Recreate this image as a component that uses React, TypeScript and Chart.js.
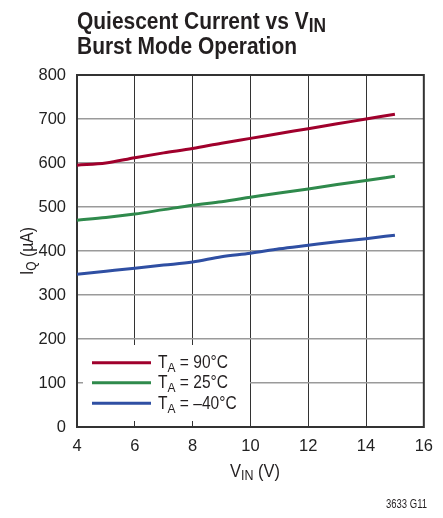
import React, { useEffect, useRef } from 'react';
import { Chart, registerables } from 'chart.js';

Chart.register(...registerables);

const vin = [4, 5, 6, 7, 8, 9, 10, 11, 12, 13, 14, 15];
const iq90 = [595, 600, 612, 623, 633, 645, 656, 667, 678, 689, 700, 711];
const iq25 = [470, 476, 484, 494, 504, 512, 522, 532, 541, 551, 560, 570];
const iqM40 = [347, 354, 361, 368, 375, 387, 395, 405, 413, 421, 428, 436];
const seriesTemps = ['= 90°C', '= 25°C', '= –40°C'];
const seriesColors = ['#a0002c', '#2f8a4c', '#2f4fa3'];
const xMin = 4, xMax = 16, xStep = 2;
const yMin = 0, yMax = 800, yStep = 100;

const FAM = '"Liberation Sans", Arial, Helvetica, sans-serif';
const TXT = '#231f20';

type Run = { t: string; size: number; bold?: boolean; dy?: number };

function fontOf(r: Run) {
  return `${r.bold ? 'bold ' : ''}${r.size}px ${FAM}`;
}
function runsWidth(ctx: CanvasRenderingContext2D, runs: Run[]) {
  let w = 0;
  for (const r of runs) { ctx.font = fontOf(r); w += ctx.measureText(r.t).width; }
  return w;
}
function drawRuns(ctx: CanvasRenderingContext2D, runs: Run[], x: number, y: number, sx: number, align: 'left' | 'center' | 'right' = 'left', rotate = 0) {
  const w = runsWidth(ctx, runs) * sx;
  ctx.save();
  ctx.translate(x, y);
  if (rotate) ctx.rotate(rotate);
  let start = 0;
  if (align === 'center') start = -w / 2;
  if (align === 'right') start = -w;
  ctx.translate(start, 0);
  ctx.scale(sx, 1);
  ctx.fillStyle = TXT;
  ctx.textAlign = 'left';
  ctx.textBaseline = 'alphabetic';
  let cx = 0;
  for (const r of runs) {
    ctx.font = fontOf(r);
    ctx.fillText(r.t, cx, r.dy || 0);
    cx += ctx.measureText(r.t).width;
  }
  ctx.restore();
}

const decorPlugin = {
  id: 'decor',
  beforeDatasetsDraw(chart: any) {
    const { ctx, chartArea: a } = chart;
    ctx.save();
    ctx.strokeStyle = '#333';
    ctx.lineWidth = 2;
    ctx.strokeRect(a.left, a.top, a.right - a.left, a.bottom - a.top);
    ctx.restore();
  },
  afterDatasetsDraw(chart: any) {
    const { ctx } = chart;
    // Title
    const l1: Run[] = [{ t: 'Quiescent Current vs V', size: 23.5, bold: true }, { t: 'IN', size: 19.5, bold: true, dy: 3.3 }];
    const l2: Run[] = [{ t: 'Burst Mode Operation', size: 23.5, bold: true }];
    const tsx = 220 / runsWidth(ctx, l2);
    drawRuns(ctx, l1, 77, 28.5, tsx);
    drawRuns(ctx, l2, 77, 53.5, tsx);

    // Legend box
    ctx.save();
    ctx.fillStyle = '#fff';
    ctx.fillRect(83, 345, 167, 76);
    ctx.restore();
    const lineYs = [362.7, 382.7, 403.3];
    const baseYs = [368, 388, 408.5];
    const mk = (s: string): Run[] => [{ t: 'T', size: 17.5 }, { t: 'A', size: 13.5, dy: 4 }, { t: ' ' + s, size: 17.5 }];
    const lsx = 70 / runsWidth(ctx, mk(seriesTemps[0]));
    seriesTemps.forEach((s, i) => {
      ctx.save();
      ctx.strokeStyle = seriesColors[i];
      ctx.lineWidth = 3;
      ctx.beginPath();
      ctx.moveTo(92, lineYs[i]);
      ctx.lineTo(151, lineYs[i]);
      ctx.stroke();
      ctx.restore();
      drawRuns(ctx, mk(s), 158, baseYs[i], lsx);
    });

    // X title
    const xt: Run[] = [{ t: 'V', size: 18.5 }, { t: 'IN', size: 14, dy: 2.5 }, { t: ' (V)', size: 18.5 }];
    drawRuns(ctx, xt, 255, 477, 50 / runsWidth(ctx, xt), 'center');
    // Y title
    const yt: Run[] = [{ t: 'I', size: 18.5 }, { t: 'Q', size: 14, dy: 2.5 }, { t: ' (µA)', size: 18.5 }];
    drawRuns(ctx, yt, 33, 251, 48 / runsWidth(ctx, yt), 'center', -Math.PI / 2);
    // Footer
    const ft: Run[] = [{ t: '3633 G11', size: 13 }];
    drawRuns(ctx, ft, 427, 508, 41 / runsWidth(ctx, ft), 'right');
  },
};

export default function App() {
  const ref = useRef<HTMLCanvasElement>(null);
  useEffect(() => {
    document.body.style.margin = '0';
    const mkData = (ys: number[]) => vin.map((x, i) => ({ x, y: ys[i] }));
    const all = [iq90, iq25, iqM40];
    const chart = new Chart(ref.current!, {
      type: 'line',
      data: {
        datasets: all.map((ys, i) => ({
          label: 'TA ' + seriesTemps[i],
          data: mkData(ys),
          borderColor: seriesColors[i],
          borderWidth: 3,
          pointRadius: 0,
          fill: false,
          cubicInterpolationMode: 'monotone' as const,
        })),
      },
      options: {
        animation: false,
        responsive: false,
        devicePixelRatio: 1,
        layout: { padding: { top: 75, right: 15, left: 0, bottom: 0 } },
        plugins: { legend: { display: false }, tooltip: { enabled: false }, title: { display: false } },
        scales: {
          x: {
            type: 'linear',
            min: xMin,
            max: xMax,
            afterFit: (s: any) => { s.height = 91; },
            grid: { color: '#333', lineWidth: 1, drawTicks: false },
            border: { display: false },
            ticks: { stepSize: xStep, padding: 10, color: '#222', font: { family: FAM, size: 16.5 } },
          },
          y: {
            type: 'linear',
            min: yMin,
            max: yMax,
            afterFit: (s: any) => { s.width = 77; },
            grid: { color: '#9a9a9a', lineWidth: 1.5, drawTicks: false },
            border: { display: false },
            ticks: { stepSize: yStep, padding: 11, color: '#222', font: { family: FAM, size: 16.5 } },
          },
        },
      },
      plugins: [decorPlugin],
    });
    return () => chart.destroy();
  }, []);
  return (
    <div style={{ width: 443, height: 518 }}>
      <canvas ref={ref} width={443} height={518} style={{ width: 443, height: 518, display: 'block' }} />
    </div>
  );
}
